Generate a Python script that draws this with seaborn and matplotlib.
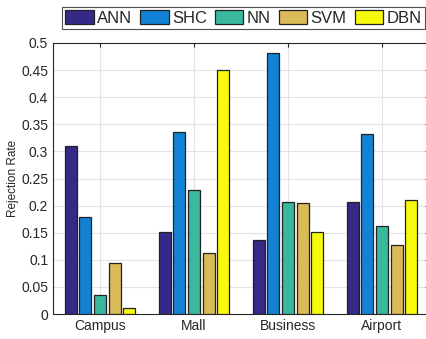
import matplotlib
matplotlib.use("Agg")
import matplotlib.pyplot as plt
import seaborn as sns
import pandas as pd

categories = ["Campus", "Mall", "Business", "Airport"]
methods = ["ANN", "SHC", "NN", "SVM", "DBN"]
ann = [0.310, 0.152, 0.136, 0.207]
shc = [0.179, 0.336, 0.482, 0.332]
nn = [0.035, 0.229, 0.207, 0.162]
svm = [0.095, 0.113, 0.205, 0.128]
dbn = [0.011, 0.451, 0.151, 0.210]
colors = ["#352a87", "#1283d4", "#38b99e", "#d9ba56", "#f8fa0d"]
yticks = [0, 0.05, 0.1, 0.15, 0.2, 0.25, 0.3, 0.35, 0.4, 0.45, 0.5]
ytick_labels = ["0", "0.05", "0.1", "0.15", "0.2", "0.25", "0.3", "0.35", "0.4", "0.45", "0.5"]

series = {"ANN": ann, "SHC": shc, "NN": nn, "SVM": svm, "DBN": dbn}
rows = []
for m in methods:
    for c, v in zip(categories, series[m]):
        rows.append({"Scenario": c, "Method": m, "Rate": v})
df = pd.DataFrame(rows)

sns.set_style("white")
plt.rcParams["font.family"] = ["Liberation Sans", "DejaVu Sans"]

fig = plt.figure(figsize=(4.27, 3.39), dpi=100)
ax = fig.add_axes([53 / 427, 1 - 314 / 339, (429 - 53) / 427, (314 - 43) / 339])

sns.barplot(data=df, x="Scenario", y="Rate", hue="Method", order=categories,
            hue_order=methods, palette=colors, saturation=1, width=0.78, gap=0.2,
            edgecolor="#222222", linewidth=0.9, ax=ax, legend=True, zorder=3)

ax.set_xlim(-0.5, 3.5)
ax.set_ylim(0, 0.5)
ax.set_yticks(yticks)
ax.set_yticklabels(ytick_labels)
ax.set_xlabel("")
ax.set_ylabel("Rejection Rate", fontsize=8.5, color="#262626")
ax.yaxis.set_label_coords(-0.09, 0.5)
ax.set_axisbelow(True)
ax.xaxis.grid(True, color="#e3e3e3", linewidth=0.8)
ax.yaxis.grid(True, color="#e3e3e3", linewidth=0.8)
ax.tick_params(axis="both", direction="in", length=3, width=0.8, labelsize=10,
               colors="#262626", top=True, right=True, labelcolor="#262626")
for s in ax.spines.values():
    s.set_color("#262626")
    s.set_linewidth(0.8)

handles, labels = ax.get_legend_handles_labels()
ax.legend(handles, labels, ncol=5, loc="lower left",
          bbox_to_anchor=(62 / 427, 1 - 29 / 339, (425 - 62) / 427, 25 / 339),
          bbox_transform=fig.transFigure, mode="expand",
          fontsize=12, frameon=True, fancybox=False, edgecolor="#262626",
          handlelength=1.7, handleheight=0.9, handletextpad=0.2,
          columnspacing=0.4, borderpad=0.2, borderaxespad=0)
ax.get_legend().get_frame().set_linewidth(0.8)

fig.savefig("out.png", dpi=100)
